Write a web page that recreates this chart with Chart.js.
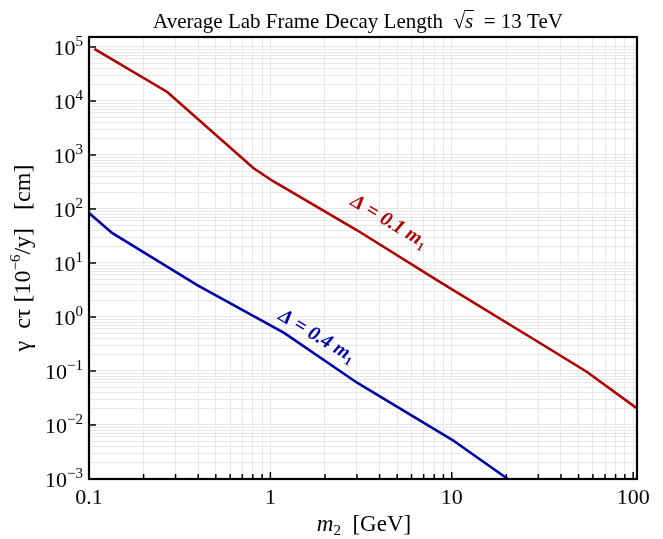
<!DOCTYPE html>
<html>
<head>
<meta charset="utf-8">
<script src="https://cdn.jsdelivr.net/npm/chart.js@4.4.1/dist/chart.umd.min.js"></script>
<style>
  body { margin: 0; background: #fff; }
  canvas { display: block; }
</style>
</head>
<body>
<canvas id="decayChart" width="663" height="539"></canvas>
<script>
// m2 [GeV] and gamma c tau [cm]
const redMass = [0.107, 0.27, 0.805, 1.03, 2.99, 8.58, 30.6, 55.7, 104];
const redLength = [9.2e4, 1.47e4, 574, 330, 40.8, 4.45, 0.33, 0.0958, 0.0207];
const blueMass = [0.1, 0.134, 0.395, 1.19, 3.02, 10.1, 13.7, 20.4];
const blueLength = [84, 36, 3.9, 0.506, 0.06, 0.00527, 0.00255, 0.001];

const xDecades = [0.1, 1, 10, 100];
const yDecades = [1e-3, 1e-2, 1e-1, 1, 10, 100, 1e3, 1e4, 1e5];
const xLabels = ['0.1', '1', '10', '100'];
const yExponents = ['−3', '−2', '−1', '0', '1', '2', '3', '4', '5'];

const RED = '#b00000';
const BLUE = '#0000a8';
const SERIF = '"Liberation Serif", "DejaVu Serif", serif';

const minorTicks = decades => {
    const out = [];
    decades.forEach(d => {
        for (let k = 1; k <= 9; k++) out.push(+(d * k).toPrecision(3));
    });
    return out;
};

const toPoints = (xs, ys) => xs.map((x, i) => ({ x, y: ys[i] }));

const framePlugin = {
    id: 'frame',
    afterDraw(chart) {
        const { ctx, chartArea: a, scales: { x, y } } = chart;
        ctx.save();

        // inward ticks
        ctx.strokeStyle = '#000';
        ctx.lineWidth = 1.5;
        minorTicks(xDecades).forEach(v => {
            if (v > x.max) return;
            const px = x.getPixelForValue(v);
            const len = xDecades.includes(v) ? 7 : 5;
            ctx.beginPath();
            ctx.moveTo(px, a.bottom);
            ctx.lineTo(px, a.bottom - len);
            ctx.stroke();
        });
        yDecades.forEach(v => {
            const py = y.getPixelForValue(v);
            ctx.beginPath();
            ctx.moveTo(a.left, py);
            ctx.lineTo(a.left + 7, py);
            ctx.stroke();
        });

        // frame
        ctx.lineWidth = 2.2;
        ctx.strokeRect(a.left, a.top, a.right - a.left, a.bottom - a.top);

        ctx.fillStyle = '#000';
        ctx.textBaseline = 'alphabetic';

        // x tick labels
        ctx.font = '22px ' + SERIF;
        ctx.textAlign = 'center';
        xDecades.forEach((v, i) => {
            ctx.fillText(xLabels[i], x.getPixelForValue(v), 504);
        });

        // y tick labels 10^n
        yDecades.forEach((v, i) => {
            const py = y.getPixelForValue(v);
            ctx.font = '15px ' + SERIF;
            const ew = ctx.measureText(yExponents[i]).width;
            ctx.textAlign = 'right';
            ctx.fillText(yExponents[i], 83, py - 1);
            ctx.font = '22px ' + SERIF;
            ctx.fillText('10', 83 - ew, py + 8);
        });

        // title
        const parts = [
            { t: 'Average Lab Frame Decay Length  ', f: '21px ' + SERIF },
            { t: '√', f: '21px ' + SERIF },
            { t: 's', f: 'italic 21px ' + SERIF, bar: true },
            { t: '  = 13 TeV', f: '21px ' + SERIF }
        ];
        let total = 0;
        parts.forEach(p => { ctx.font = p.f; p.w = ctx.measureText(p.t).width; total += p.w; });
        let tx = 358 - total / 2;
        ctx.textAlign = 'left';
        parts.forEach(p => {
            ctx.font = p.f;
            ctx.fillText(p.t, tx, 28);
            if (p.bar) {
                ctx.lineWidth = 1;
                ctx.beginPath();
                ctx.moveTo(tx - 1, 10.5);
                ctx.lineTo(tx + p.w + 1, 10.5);
                ctx.stroke();
            }
            tx += p.w;
        });

        // x axis title
        ctx.font = 'italic 23px ' + SERIF;
        const mw = ctx.measureText('m').width;
        ctx.font = '15px ' + SERIF;
        const sw = ctx.measureText('2').width;
        ctx.font = '23px ' + SERIF;
        const gw = ctx.measureText('  [GeV]').width;
        let xx = 364 - (mw + sw + gw) / 2;
        ctx.font = 'italic 23px ' + SERIF;
        ctx.fillText('m', xx, 531);
        ctx.font = '15px ' + SERIF;
        ctx.fillText('2', xx + mw, 535);
        ctx.font = '23px ' + SERIF;
        ctx.fillText('  [GeV]', xx + mw + sw, 531);

        // y axis title
        ctx.save();
        ctx.translate(30, 258);
        ctx.rotate(-Math.PI / 2);
        const yParts = [
            { t: 'γ  cτ [10', f: '24px ' + SERIF, dy: 0 },
            { t: '−6', f: '15px ' + SERIF, dy: -10 },
            { t: '/y]   [cm]', f: '24px ' + SERIF, dy: 0 }
        ];
        let yt = 0;
        yParts.forEach(p => { ctx.font = p.f; p.w = ctx.measureText(p.t).width; yt += p.w; });
        let yx = -yt / 2;
        yParts.forEach(p => {
            ctx.font = p.f;
            ctx.fillText(p.t, yx, p.dy);
            yx += p.w;
        });
        ctx.restore();

        // curve labels
        const label = (mass, len, text, color) => {
            ctx.save();
            ctx.translate(x.getPixelForValue(mass), y.getPixelForValue(len));
            ctx.rotate(31 * Math.PI / 180);
            ctx.fillStyle = color;
            ctx.font = 'bold italic 20px ' + SERIF;
            const w1 = ctx.measureText(text).width;
            ctx.font = 'bold 12px ' + SERIF;
            const w2 = ctx.measureText('1').width;
            let lx = -(w1 + w2) / 2;
            ctx.font = 'bold italic 20px ' + SERIF;
            ctx.textBaseline = 'middle';
            ctx.fillText(text, lx, 0);
            ctx.font = 'bold 12px ' + SERIF;
            ctx.fillText('1', lx + w1, 6);
            ctx.restore();
        };
        label(4.5, 58, 'Δ = 0.1 m', RED);
        label(1.8, 0.44, 'Δ = 0.4 m', BLUE);

        ctx.restore();
    }
};

const gridColor = '#e8e8e8';

new Chart(document.getElementById('decayChart').getContext('2d'), {
    type: 'scatter',
    data: {
        datasets: [
            {
                data: toPoints(redMass, redLength),
                showLine: true,
                borderColor: RED,
                borderWidth: 2.6,
                pointRadius: 0,
                tension: 0,
            },
            {
                data: toPoints(blueMass, blueLength),
                showLine: true,
                borderColor: BLUE,
                borderWidth: 2.6,
                pointRadius: 0,
                tension: 0,
            },
        ],
    },
    options: {
        responsive: false,
        animation: false,
        layout: { padding: { left: 89, right: 26, top: 37, bottom: 60 } },
        plugins: {
            legend: { display: false },
            tooltip: { enabled: false },
        },
        scales: {
            x: {
                type: 'logarithmic',
                min: 0.1,
                max: 105,
                afterBuildTicks: scale => {
                    scale.ticks = minorTicks(xDecades).filter(v => v <= 105).map(value => ({ value }));
                },
                ticks: { display: false },
                grid: { color: gridColor, drawTicks: false },
                border: { display: false },
            },
            y: {
                type: 'logarithmic',
                min: 1e-3,
                max: 1.53e5,
                afterBuildTicks: scale => {
                    scale.ticks = minorTicks(yDecades).filter(v => v <= 1.53e5).map(value => ({ value }));
                },
                ticks: { display: false },
                grid: { color: gridColor, drawTicks: false },
                border: { display: false },
            },
        },
    },
    plugins: [framePlugin],
});
</script>
</body>
</html>
